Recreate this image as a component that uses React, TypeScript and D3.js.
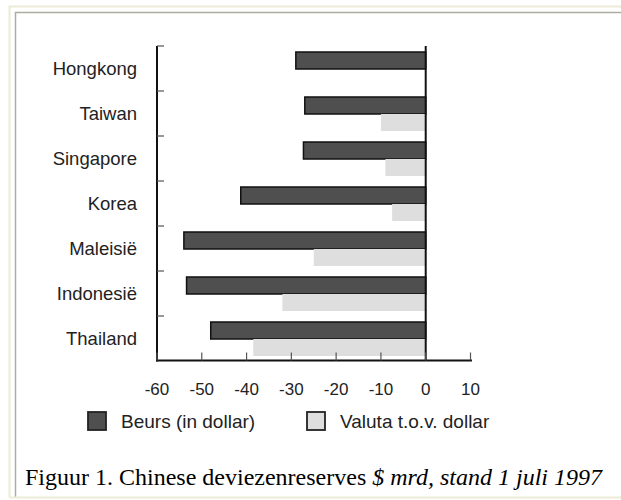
import React from "react";
import * as d3 from "d3";

const categories = ["Hongkong", "Taiwan", "Singapore", "Korea", "Maleisië", "Indonesië", "Thailand"];
const beursValues = [-29, -27, -27.3, -41.3, -54, -53.4, -48];
const valutaValues = [0, -10, -9, -7.5, -25, -32, -38.5];
const xTicks = [-60, -50, -40, -30, -20, -10, 0, 10];
const seriesNames = ["Beurs (in dollar)", "Valuta t.o.v. dollar"];
const seriesKeys = ["beurs", "valuta"];

const W = 621;
const H = 500;
const DARK = "#4f4f4f";
const LIGHT = "#dedede";
const SANS = "'Liberation Sans', Arial, sans-serif";
const SERIF = "'Liberation Serif', 'Times New Roman', serif";

export default function App() {
  const x = d3.scaleLinear().domain([-60, 10]).range([157, 470.5]);
  const y = d3.scaleBand<string>().domain(categories).range([46, 361]).paddingInner(0).paddingOuter(0);
  const inner = d3
    .scaleBand<string>()
    .domain(seriesKeys)
    .range([6, y.bandwidth() - 5])
    .paddingInner(0);
  const axisY = 360.5;
  const x0 = x(0);
  const values: Record<string, number[]> = { beurs: beursValues, valuta: valutaValues };

  return (
    <svg
      width={W}
      height={H}
      style={{ position: "fixed", left: 0, top: 0, background: "#fff" }}
    >
      <rect x={0} y={0} width={W} height={H} fill="#fff" />
      {/* frame */}
      <path d={`M9.5,${H - 2.5} V6.5 H${W}`} fill="none" stroke="#ecebd8" strokeWidth={2} />
      <path d={`M15.5,${H - 2.5} V12.5 H${W}`} fill="none" stroke="#adad9f" strokeWidth={1.5} />
      <line x1={9.5} x2={W} y1={H - 2.5} y2={H - 2.5} stroke="#ecebd8" strokeWidth={2} />

      {/* bars */}
      {categories.map((c, i) => (
        <g key={c} transform={`translate(0,${y(c)})`}>
          {seriesKeys.map((k) => {
            const v = values[k][i];
            if (v === 0) return null;
            const bx = Math.min(x(v), x0);
            const bw = Math.abs(x(v) - x0);
            return (
              <rect
                key={k}
                x={bx}
                y={inner(k)}
                width={bw}
                height={inner.bandwidth()}
                fill={k === "beurs" ? DARK : LIGHT}
                stroke={k === "beurs" ? "#111" : "none"}
                strokeWidth={k === "beurs" ? 1.5 : 0}
              />
            );
          })}
        </g>
      ))}

      {/* y axis */}
      <line x1={157} x2={157} y1={46} y2={axisY + 1} stroke="#111" strokeWidth={2} />
      {categories.map((c) => (
        <line key={"t" + c} x1={157} x2={164} y1={y(c)} y2={y(c)} stroke="#555" strokeWidth={1.2} />
      ))}
      {categories.map((c) => (
        <text
          key={"l" + c}
          x={137}
          y={(y(c) as number) + y.bandwidth() / 2}
          dy="0.35em"
          textAnchor="end"
          fontFamily={SANS}
          fontSize={18.5}
          fill="#222"
        >
          {c}
        </text>
      ))}

      {/* zero line */}
      <line x1={x0} x2={x0} y1={46} y2={axisY} stroke="#111" strokeWidth={2} />

      {/* x axis */}
      <line x1={156} x2={472} y1={axisY} y2={axisY} stroke="#111" strokeWidth={2} />
      {xTicks.map((t) => (
        <g key={"x" + t}>
          <line x1={x(t)} x2={x(t)} y1={axisY} y2={axisY - 8} stroke="#555" strokeWidth={1.2} />
          <text
            x={x(t)}
            y={389}
            dy="0.35em"
            textAnchor="middle"
            fontFamily={SANS}
            fontSize={17}
            fill="#222"
          >
            {t}
          </text>
        </g>
      ))}

      {/* legend */}
      {seriesNames.map((n, i) => {
        const lx = i === 0 ? 88 : 307;
        return (
          <g key={n}>
            <rect
              x={lx}
              y={412}
              width={18}
              height={18}
              fill={i === 0 ? DARK : LIGHT}
              stroke="#222"
              strokeWidth={1.8}
            />
            <text
              x={lx + 33}
              y={421}
              dy="0.35em"
              fontFamily={SANS}
              fontSize={19}
              fill="#222"
            >
              {n}
            </text>
          </g>
        );
      })}

      {/* caption */}
      <text x={25} y={485} fontFamily={SERIF} fontSize={24} fill="#000">
        Figuur 1. Chinese deviezenreserves{" "}
        <tspan fontStyle="italic">$ mrd, stand 1 juli 1997</tspan>
      </text>
    </svg>
  );
}
